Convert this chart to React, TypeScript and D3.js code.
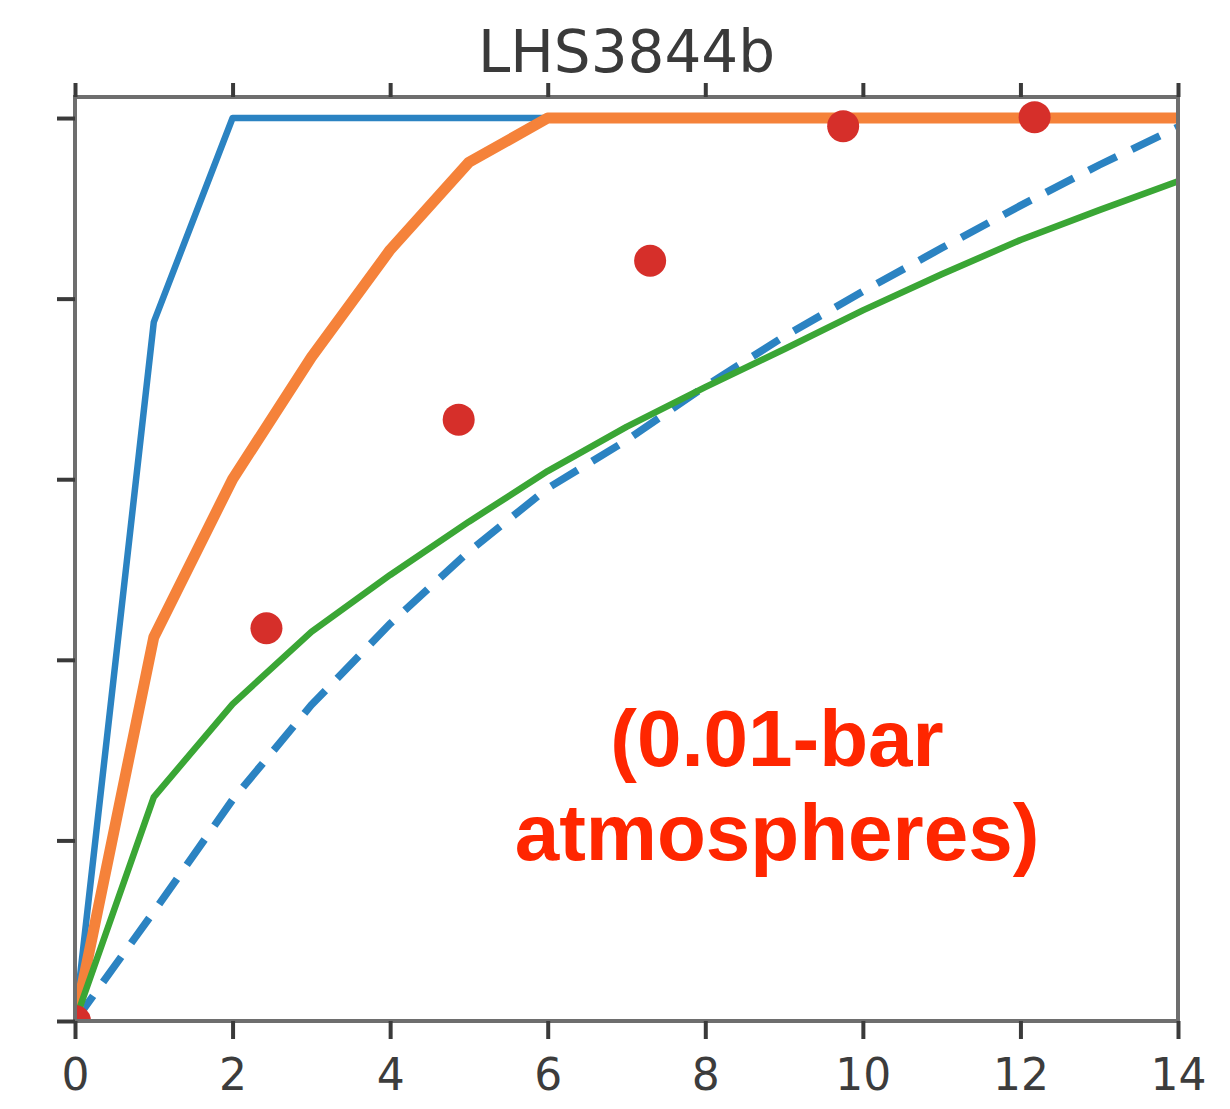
import React, { useEffect, useRef } from 'react';
import * as d3 from 'd3';

// epochs (x) sampled at integers for the model curves
const steps = [0, 1, 2, 3, 4, 5, 6, 7, 8, 9, 10, 11, 12, 13, 14];
const blueSolid = [0, 0.774, 1, 1, 1, 1, 1, 1, 1, 1, 1, 1, 1, 1, 1];
const orangeSolid = [0, 0.425, 0.6, 0.735, 0.854, 0.951, 1, 1, 1, 1, 1, 1, 1, 1, 1];
const greenSolid = [0, 0.248, 0.351, 0.431, 0.494, 0.553, 0.609, 0.658, 0.702, 0.744, 0.787, 0.827, 0.865, 0.898, 0.93];
const blueDashed = [0, 0.121, 0.245, 0.35, 0.44, 0.52, 0.59, 0.643, 0.703, 0.758, 0.808, 0.856, 0.903, 0.948, 0.99];

// observed points
const dotX = [0, 2.43, 4.87, 7.3, 9.75, 12.18];
const dotY = [0, 0.435, 0.666, 0.842, 0.991, 1.001];

const xTicks = [0, 2, 4, 6, 8, 10, 12, 14];
const yTicks = [0, 0.2, 0.4, 0.6, 0.8, 1.0];

const title = 'LHS3844b';
const noteLines = ['(0.01-bar', 'atmospheres)'];

const App = () => {
  const svgRef = useRef<SVGSVGElement>(null);

  useEffect(() => {
    document.body.style.margin = '0';
    const svg = d3.select(svgRef.current);
    svg.selectAll('*').remove();

    const left = 75, right = 1178, top = 97, bottom = 1021;

    const x = d3.scaleLinear().domain([0, 14]).range([left, right]);
    const y = d3.scaleLinear().domain([0, 1.0233]).range([bottom, top]);

    svg.append('defs')
      .append('clipPath')
      .attr('id', 'plot-clip')
      .append('rect')
      .attr('x', left)
      .attr('y', top)
      .attr('width', right - left)
      .attr('height', bottom - top);

    const plot = svg.append('g').attr('clip-path', 'url(#plot-clip)');

    const line = d3
      .line<number>()
      .x((_, i) => x(steps[i]))
      .y((d) => y(d));

    plot.append('path')
      .datum(blueDashed)
      .attr('fill', 'none')
      .attr('stroke', '#2b83c2')
      .attr('stroke-width', 7.5)
      .attr('stroke-dasharray', '31 17')
      .attr('d', line);

    plot.append('path')
      .datum(blueSolid)
      .attr('fill', 'none')
      .attr('stroke', '#2b83c2')
      .attr('stroke-width', 6.5)
      .attr('stroke-linejoin', 'round')
      .attr('d', line);

    plot.append('path')
      .datum(orangeSolid)
      .attr('fill', 'none')
      .attr('stroke', '#f5823a')
      .attr('stroke-width', 11)
      .attr('stroke-linejoin', 'round')
      .attr('d', line);

    plot.append('path')
      .datum(greenSolid)
      .attr('fill', 'none')
      .attr('stroke', '#3aa635')
      .attr('stroke-width', 6.5)
      .attr('stroke-linejoin', 'round')
      .attr('d', line);

    plot.selectAll('circle')
      .data(dotX)
      .enter()
      .append('circle')
      .attr('cx', (d) => x(d))
      .attr('cy', (_, i) => y(dotY[i]))
      .attr('r', 16)
      .attr('fill', '#d62f2a');

    // frame
    svg.append('rect')
      .attr('x', left)
      .attr('y', top)
      .attr('width', right - left)
      .attr('height', bottom - top)
      .attr('fill', 'none')
      .attr('stroke', '#6e6e6e')
      .attr('stroke-width', 4);

    const bottomAxis = svg.append('g')
      .attr('transform', `translate(0,${bottom})`)
      .call(d3.axisBottom(x).tickValues(xTicks).tickSize(18).tickPadding(20).tickFormat(d3.format('d')));
    const topAxis = svg.append('g')
      .attr('transform', `translate(0,${top})`)
      .call(d3.axisTop(x).tickValues(xTicks).tickSize(14).tickFormat(() => ''));
    const leftAxis = svg.append('g')
      .attr('transform', `translate(${left},0)`)
      .call(d3.axisLeft(y).tickValues(yTicks).tickSize(18).tickFormat(() => ''));

    [bottomAxis, topAxis, leftAxis].forEach((g) => {
      g.select('.domain').remove();
      g.selectAll('.tick line').attr('stroke', '#3a3a3a').attr('stroke-width', 4);
    });

    bottomAxis.selectAll('.tick text')
      .attr('fill', '#3c3c3c')
      .attr('font-family', 'DejaVu Sans')
      .attr('font-size', 44);

    svg.append('text')
      .attr('x', (left + right) / 2)
      .attr('y', 72)
      .attr('text-anchor', 'middle')
      .attr('font-family', 'DejaVu Sans')
      .attr('font-size', 58)
      .attr('fill', '#3a3a3a')
      .text(title);

    svg.append('g')
      .selectAll('text')
      .data(noteLines)
      .enter()
      .append('text')
      .attr('x', 777)
      .attr('y', (_, i) => 766 + i * 94)
      .attr('text-anchor', 'middle')
      .attr('font-family', 'Liberation Sans, Arial, sans-serif')
      .attr('font-weight', 'bold')
      .attr('font-size', 80)
      .attr('fill', '#ff2600')
      .text((d) => d);
  }, []);

  return <svg ref={svgRef} width={1230} height={1109} style={{ display: 'block', background: '#fff' }}></svg>;
};

export default App;
